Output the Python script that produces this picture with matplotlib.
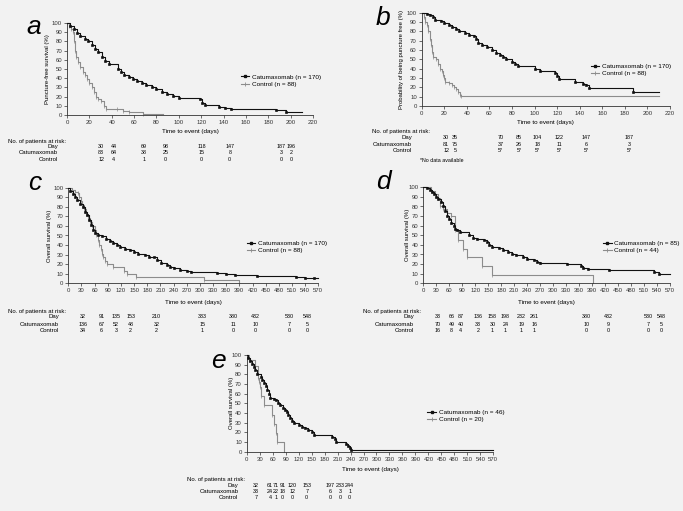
"""
Kaplan-Meier panels a-e: puncture-free and overall survival, catumaxomab vs control,
with numbers at risk under each panel.
"""
import matplotlib
matplotlib.use("Agg")
import matplotlib.pyplot as plt
from matplotlib.lines import Line2D
from matplotlib.transforms import blended_transform_factory

plt.rcParams["font.family"] = ["Liberation Sans", "DejaVu Sans"]

W, H = 683, 511
BG = "#f2f2f2"
BLACK = "#111111"
GREY = "#8c8c8c"
FS = 4.3
FS_NUM = 3.9

# ---- panel a: puncture-free survival ----
A_CAT_T = [0, 3, 6, 9, 12, 16, 19, 22, 25, 28, 31, 34, 38, 46, 48, 51, 55, 59, 63, 67,
           71, 76, 80, 85, 89, 95, 100, 119, 121, 123, 136, 141, 147, 187, 196, 210]
A_CAT_S = [100, 97, 93, 89, 86, 83, 80, 76, 72, 68, 63, 59, 55, 50, 47, 44, 41, 39, 37, 35,
           33, 30, 28, 25, 23, 21, 19, 17, 13, 11, 9, 8, 6, 5, 3, 3]
A_CTL_T = [0, 2, 4, 5, 6, 7, 8, 10, 12, 14, 16, 18, 20, 22, 24, 26, 28, 30, 33, 35,
           45, 50, 55, 68, 86]
A_CTL_S = [100, 97, 93, 90, 80, 70, 63, 58, 52, 47, 43, 39, 35, 30, 25, 20, 17, 15, 10, 7,
           6, 4, 3, 1, 1]
A_DAY = [30, 44, 69, 98, 118, 147, 187, 196]
A_RISK_CAT = [83, 64, 38, 25, 15, 8, 3, 2]
A_RISK_CTL = [12, 4, 1, 0, 0, 0, 0, 0]

# ---- panel b: probability of being puncture free ----
B_CAT_T = [0, 5, 7, 10, 12, 17, 20, 24, 27, 30, 33, 38, 42, 46, 48, 50, 53, 58, 62, 66,
           69, 72, 75, 80, 83, 85, 100, 105, 118, 120, 122, 136, 143, 146, 148, 187, 210]
B_CAT_S = [100, 99, 97, 95, 92, 91, 89, 87, 85, 82, 80, 78, 76, 75, 72, 68, 65, 63, 60, 57,
           55, 52, 50, 47, 45, 43, 40, 38, 35, 32, 29, 26, 24, 22, 19, 15, 15]
B_CTL_T = [0, 2, 3, 5, 6, 7, 8, 9, 10, 13, 14, 16, 18, 19, 20, 21, 24, 27, 29, 30,
           32, 34, 35, 210]
B_CTL_S = [100, 95, 90, 87, 80, 72, 65, 58, 52, 50, 45, 40, 37, 33, 30, 26, 25, 22, 20, 18,
           15, 12, 11, 11]
B_DAY = ["30", "35", "70", "85", "104", "122", "147", "187"]
B_RISK_CAT = ["81", "75", "37", "26", "18", "11", "6", "3"]
B_RISK_CTL = ["12", "5", "5*", "5*", "5*", "5*", "5*", "5*"]

# ---- panel c: overall survival, all patients ----
C_CAT_T = [0, 5, 10, 15, 20, 27, 33, 38, 42, 47, 52, 57, 62, 68, 76, 85, 95, 103, 110, 118,
           130, 140, 150, 160, 175, 185, 195, 203, 212, 224, 232, 240, 255, 270, 280, 340,
           360, 380, 430, 520, 540, 560, 570]
C_CAT_S = [100, 97, 93, 90, 87, 83, 80, 75, 71, 66, 61, 56, 53, 51, 49, 46, 44, 42, 40, 38,
           36, 35, 33, 31, 30, 28, 27, 24, 21, 19, 17, 15.5, 14, 13, 12, 11,
           10, 9, 8, 7, 6, 5.5, 5.5]
C_CTL_T = [0, 8, 15, 22, 25, 28, 32, 35, 40, 45, 50, 55, 60, 63, 67, 70, 74, 77, 80, 84,
           88, 101, 127, 133, 155, 310, 390]
C_CTL_S = [100, 98, 96, 94, 90, 86, 82, 78, 72, 68, 64, 60, 56, 51, 45, 40, 36, 31, 27, 23,
           20, 17, 13, 10, 6.7, 3.3, 0]
C_DAY = [32, 91, 135, 153, 210, 333, 380, 432, 530, 548]
C_RISK_CAT = [136, 67, 52, 48, 32, 15, 11, 10, 7, 5]
C_RISK_CTL = [34, 6, 3, 2, 2, 1, 0, 0, 0, 0]

# ---- panel d: overall survival, subgroup ----
D_CAT_T = [0, 8, 15, 20, 25, 30, 35, 40, 45, 50, 55, 60, 65, 70, 74, 78, 84, 105, 115, 125,
           140, 148, 152, 158, 175, 185, 195, 205, 215, 230, 240, 255, 263, 270, 333, 365,
           370, 380, 430, 532, 545, 570]
D_CAT_S = [100, 99, 97, 95, 93, 90, 88, 85, 80, 75, 70, 67, 63, 60, 57, 55, 53, 50, 47, 46,
           45, 43, 40, 38, 37, 35, 33, 31, 29, 27, 25, 24, 22, 21, 20, 18,
           16, 15, 14, 12, 10, 10]
D_CTL_T = [0, 18, 27, 33, 38, 45, 55, 65, 73, 81, 92, 100, 135, 158, 392]
D_CTL_S = [100, 96, 93, 89, 80, 77, 73, 70, 55, 45, 36, 27, 18, 9, 0]
D_DAY = [33, 66, 87, 136, 158, 198, 232, 261, 380, 432, 530, 548]
D_RISK_CAT = [70, 49, 40, 33, 30, 24, 19, 16, 10, 9, 7, 5]
D_RISK_CTL = [16, 8, 4, 2, 1, 1, 1, 1, 0, 0, 0, 0]

# ---- panel e: overall survival, subgroup ----
E_CAT_T = [0, 3, 8, 13, 17, 20, 23, 32, 36, 40, 44, 48, 52, 55, 62, 68, 73, 78, 83, 88,
           92, 96, 100, 104, 110, 120, 128, 135, 142, 150, 155, 198, 203, 207, 230, 235,
           238, 242, 570]
E_CAT_S = [100, 97, 94, 91, 88, 85, 80, 77, 74, 71, 68, 64, 60, 56, 55, 53, 50, 48, 45, 43,
           41, 38, 35, 32, 30, 28, 26, 24, 22, 20, 17, 15, 13, 10, 8, 6,
           4, 2, 2]
E_CTL_T = [0, 6, 19, 25, 28, 31, 33, 40, 58, 63, 67, 71, 87]
E_CTL_S = [100, 95, 89, 76, 72, 67, 58, 48, 38, 29, 19, 10, 0]
E_DAY = [32, 61, 71, 91, 120, 153, 197, 233, 244]
E_RISK_CAT = [33, 24, 22, 18, 12, 7, 6, 3, 1]
E_RISK_CTL = [7, 4, 1, 0, 0, 0, 0, 0, 0]


def fy(y):
    return 1 - y / H


def draw_panel(fig, p):
    left, top, right, bottom = p["box"]
    ax = fig.add_axes([left / W, fy(bottom), (right - left) / W, (bottom - top) / H])
    ax.set_facecolor("none")

    for t, s, col, mk in ((p["cat"][0], p["cat"][1], BLACK, "s"),
                          (p["ctl"][0], p["ctl"][1], GREY, "|")):
        z = 3 if col == BLACK else 2
        ax.step(t, s, where="post", color=col, lw=0.8, clip_on=False, zorder=z)
        ax.plot(t[1:-1], s[1:-1], ls="none", marker=mk, ms=1.4 if mk == "s" else 2.4,
                mew=0.5, color=col, clip_on=False, zorder=z)

    ax.set_xlim(0, p["xmax"])
    ax.set_ylim(0, 100)
    ax.set_xticks(range(0, p["xmax"] + 1, p["xstep"]))
    ax.set_yticks(range(0, 101, 10))
    for side in ("top", "right"):
        ax.spines[side].set_visible(False)
    for side in ("left", "bottom"):
        ax.spines[side].set_linewidth(0.6)
        ax.spines[side].set_color("#333333")
    ax.tick_params(direction="out", length=2, width=0.5, labelsize=FS, pad=1.5, colors="#333333")

    cx = (left + right) / 2
    fig.text(cx / W, fy(p["xlabel_y"]), "Time to event (days)", fontsize=FS + 0.2,
             ha="center", va="center")
    fig.text(p["ylabel_x"] / W, fy((top + bottom) / 2), p["ylabel"], fontsize=FS,
             rotation=90, ha="center", va="center")
    fig.text(p["letter_xy"][0] / W, fy(p["letter_xy"][1]), p["letter"], fontsize=19,
             style="italic", ha="center", va="center")

    handles = [Line2D([], [], color=BLACK, lw=0.8, marker="s", ms=2),
               Line2D([], [], color=GREY, lw=0.8, marker="|", ms=3, mew=0.6)]
    lx, ly = p["legend_xy"]
    ax.legend(handles, p["labels"], loc="center left", bbox_to_anchor=(lx / W, fy(ly)),
              bbox_transform=fig.transFigure, frameon=False, fontsize=FS + 0.3,
              handlelength=1.4, handletextpad=0.4, borderpad=0, borderaxespad=0,
              labelspacing=0.25)

    # numbers at risk
    hx, hy, rx, rows = p["table"]
    fig.text(hx / W, fy(hy), "No. of patients at risk:", fontsize=FS, ha="left", va="center")
    trans = blended_transform_factory(ax.transData, fig.transFigure)
    for name, vals, ry in zip(("Day", "Catumaxomab", "Control"),
                              (p["day"], p["risk_cat"], p["risk_ctl"]), rows):
        fig.text(rx / W, fy(ry), name, fontsize=FS, ha="right", va="center")
        for x, v in zip(p["cols"], vals):
            ax.text(x, fy(ry), str(v), transform=trans, fontsize=FS_NUM,
                    ha="center", va="center")
    return ax


fig = plt.figure(figsize=(W / 100, H / 100), dpi=100, facecolor=BG)

panels = [
    dict(letter="a", box=(67, 23, 313, 115), xmax=220, xstep=20,
         ylabel="Puncture-free survival (%)", ylabel_x=47, xlabel_y=132, letter_xy=(34, 27),
         cat=(A_CAT_T, A_CAT_S), ctl=(A_CTL_T, A_CTL_S),
         labels=["Catumaxomab (n = 170)", "Control (n = 88)"], legend_xy=(240.5, 80.5),
         table=(8, 141, 58, (146.5, 153, 159.5)),
         cols=[30.6, 41.6, 69, 88.3, 120.4, 145.6, 191.7, 200.6],
         day=A_DAY, risk_cat=A_RISK_CAT, risk_ctl=A_RISK_CTL),
    dict(letter="b", box=(421.7, 12.7, 670, 106), xmax=220, xstep=20,
         ylabel="Probability of being puncture free (%)", ylabel_x=402, xlabel_y=122.7,
         letter_xy=(383, 18),
         cat=(B_CAT_T, B_CAT_S), ctl=(B_CTL_T, B_CTL_S),
         labels=["Catumaxomab (n = 170)", "Control (n = 88)"], legend_xy=(590.5, 69.7),
         table=(372, 131.7, 412, (137.3, 144, 150)),
         cols=[21.6, 29.5, 70, 86.2, 102.5, 122, 146, 184],
         day=B_DAY, risk_cat=B_RISK_CAT, risk_ctl=B_RISK_CTL),
    dict(letter="c", box=(68.3, 187.7, 318.3, 283.3), xmax=570, xstep=30,
         ylabel="Overall survival (%)", ylabel_x=50, xlabel_y=302.3, letter_xy=(35, 183.5),
         cat=(C_CAT_T, C_CAT_S), ctl=(C_CTL_T, C_CTL_S),
         labels=["Catumaxomab (n = 170)", "Control (n = 88)"], legend_xy=(246.5, 247.2),
         table=(8, 311, 59, (316.7, 324, 330)),
         cols=[34, 76, 108.7, 142, 201, 305.5, 376, 427, 504, 545],
         day=C_DAY, risk_cat=C_RISK_CAT, risk_ctl=C_RISK_CTL),
    dict(letter="d", box=(423.3, 187.3, 670, 283.3), xmax=570, xstep=30,
         ylabel="Overall survival (%)", ylabel_x=407.7, xlabel_y=302.3, letter_xy=(383, 182),
         cat=(D_CAT_T, D_CAT_S), ctl=(D_CTL_T, D_CTL_S),
         labels=["Catumaxomab (n = 85)", "Control (n = 44)"], legend_xy=(603, 247.2),
         table=(362.7, 311, 414, (316.7, 324, 330)),
         cols=[33, 65.5, 86, 127, 160, 190, 227, 256, 377.5, 427.6, 520, 549],
         day=D_DAY, risk_cat=D_RISK_CAT, risk_ctl=D_RISK_CTL),
    dict(letter="e", box=(246.7, 355, 493.3, 451.7), xmax=570, xstep=30,
         ylabel="Overall survival (%)", ylabel_x=231, xlabel_y=469.3, letter_xy=(218, 361.5),
         cat=(E_CAT_T, E_CAT_S), ctl=(E_CTL_T, E_CTL_S),
         labels=["Catumaxomab (n = 46)", "Control (n = 20)"], legend_xy=(427.3, 416.2),
         table=(186.7, 479.3, 238.3, (485, 491.7, 497.7)),
         cols=[21.6, 54, 68, 83, 105.5, 138.7, 193.5, 217, 238],
         day=E_DAY, risk_cat=E_RISK_CAT, risk_ctl=E_RISK_CTL),
]

for p in panels:
    draw_panel(fig, p)

fig.text(420 / W, fy(160), "*No data available", fontsize=FS - 0.5, ha="left", va="center")

fig.savefig("out.png", dpi=100, facecolor=BG)
plt.close(fig)
